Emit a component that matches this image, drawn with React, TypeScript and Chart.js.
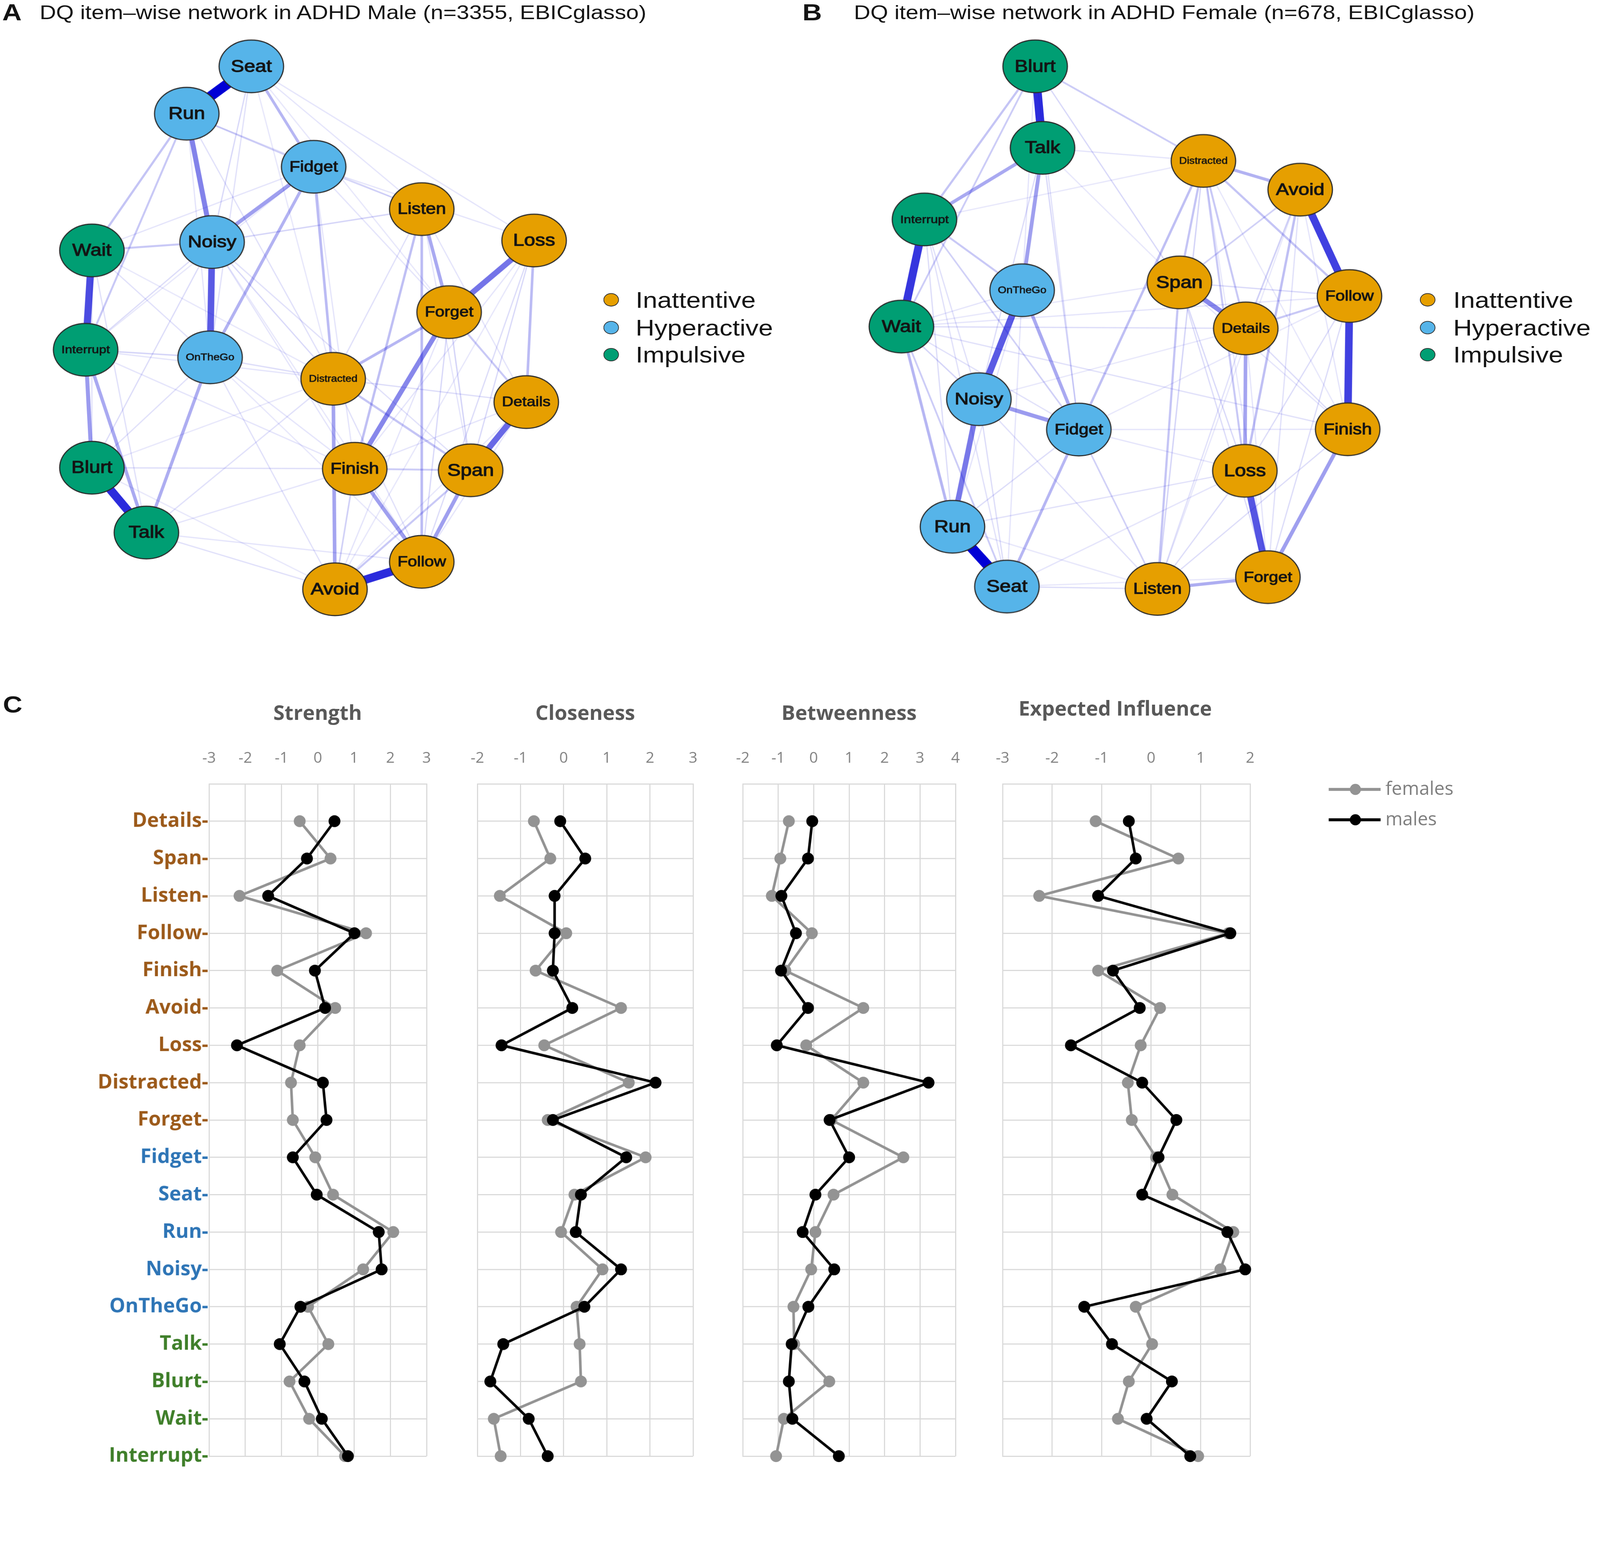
import React, { useEffect, useRef } from 'react';
import { Chart, registerables } from 'chart.js';

Chart.register(...registerables);

// ---------------- data ----------------
const items = ['Details', 'Span', 'Listen', 'Follow', 'Finish', 'Avoid', 'Loss', 'Distracted', 'Forget',
  'Fidget', 'Seat', 'Run', 'Noisy', 'OnTheGo', 'Talk', 'Blurt', 'Wait', 'Interrupt'];
const itemGroup = [0, 0, 0, 0, 0, 0, 0, 0, 0, 1, 1, 1, 1, 1, 2, 2, 2, 2];
const groupNames = ['Inattentive', 'Hyperactive', 'Impulsive'];
const seriesNames = ['females', 'males'];

const strengthMales = [0.46, -0.30, -1.37, 1.01, -0.08, 0.20, -2.23, 0.14, 0.24, -0.69, -0.03, 1.68, 1.76, -0.48, -1.05, -0.37, 0.11, 0.83];
const strengthFemales = [-0.50, 0.35, -2.16, 1.33, -1.12, 0.48, -0.50, -0.74, -0.69, -0.07, 0.42, 2.08, 1.25, -0.27, 0.29, -0.78, -0.24, 0.75];
const closenessMales = [-0.08, 0.50, -0.21, -0.21, -0.25, 0.20, -1.44, 2.13, -0.25, 1.45, 0.40, 0.28, 1.33, 0.48, -1.40, -1.70, -0.81, -0.37];
const closenessFemales = [-0.69, -0.31, -1.48, 0.06, -0.65, 1.33, -0.45, 1.51, -0.37, 1.90, 0.25, -0.06, 0.90, 0.30, 0.37, 0.40, -1.62, -1.46];
const betweennessMales = [-0.04, -0.16, -0.91, -0.50, -0.92, -0.16, -1.04, 3.24, 0.45, 1.00, 0.05, -0.31, 0.58, -0.15, -0.62, -0.70, -0.60, 0.71];
const betweennessFemales = [-0.70, -0.94, -1.18, -0.05, -0.80, 1.40, -0.21, 1.40, 0.50, 2.53, 0.56, 0.05, -0.07, -0.57, -0.55, 0.44, -0.84, -1.06];
const influenceMales = [-0.45, -0.31, -1.07, 1.60, -0.77, -0.23, -1.62, -0.18, 0.51, 0.15, -0.18, 1.54, 1.90, -1.35, -0.79, 0.42, -0.09, 0.79];
const influenceFemales = [-1.12, 0.55, -2.26, 1.56, -1.07, 0.18, -0.21, -0.47, -0.39, 0.10, 0.43, 1.66, 1.40, -0.31, 0.02, -0.45, -0.67, 0.95];

const strengthAxis = [-3, 3];
const closenessAxis = [-2, 3];
const betweennessAxis = [-2, 4];
const influenceAxis = [-3, 2];

// network layouts (qgraph-style coordinates) and edge weights
const maleNodes = ['Seat', 'Run', 'Fidget', 'Listen', 'Loss', 'Wait', 'Noisy', 'Forget', 'Interrupt', 'OnTheGo',
  'Distracted', 'Details', 'Blurt', 'Finish', 'Span', 'Talk', 'Follow', 'Avoid'];
const maleX = [-0.261, -0.549, 0.017, 0.499, 1.000, -0.972, -0.436, 0.621, -1.000, -0.445, 0.104, 0.965, -0.972, 0.200, 0.717, -0.729, 0.499, 0.112];
const maleY = [1.000, 0.819, 0.616, 0.454, 0.334, 0.296, 0.328, 0.060, -0.084, -0.113, -0.195, -0.284, -0.535, -0.539, -0.545, -0.783, -0.895, -1.000];
const maleEdges: [string, string, number][] = [
  ['Seat', 'Run', 0.50], ['Blurt', 'Talk', 0.42], ['Avoid', 'Follow', 0.42], ['Wait', 'Interrupt', 0.36],
  ['Noisy', 'OnTheGo', 0.33], ['Details', 'Span', 0.30], ['Loss', 'Forget', 0.28], ['Run', 'Noisy', 0.25],
  ['Forget', 'Finish', 0.24], ['Interrupt', 'Blurt', 0.20], ['Fidget', 'Noisy', 0.19], ['Finish', 'Follow', 0.19],
  ['Span', 'Follow', 0.19], ['Distracted', 'Avoid', 0.18], ['Interrupt', 'Talk', 0.17], ['OnTheGo', 'Talk', 0.16],
  ['Listen', 'Forget', 0.17], ['Fidget', 'OnTheGo', 0.15], ['Seat', 'Fidget', 0.14], ['Forget', 'Distracted', 0.14],
  ['Listen', 'Follow', 0.13], ['Loss', 'Details', 0.13], ['Fidget', 'Distracted', 0.13], ['Listen', 'Finish', 0.12],
  ['Run', 'Wait', 0.11], ['Run', 'Interrupt', 0.10], ['Wait', 'Noisy', 0.10], ['Distracted', 'Span', 0.11],
  ['Forget', 'Details', 0.10], ['Finish', 'Span', 0.09], ['Avoid', 'Span', 0.10], ['Finish', 'Avoid', 0.08],
  ['Run', 'Fidget', 0.08], ['Noisy', 'Listen', 0.07], ['Interrupt', 'OnTheGo', 0.07], ['Forget', 'Span', 0.07],
  ['Forget', 'Follow', 0.06], ['Loss', 'Span', 0.06], ['Loss', 'Follow', 0.05], ['Noisy', 'Distracted', 0.06],
  ['Blurt', 'Finish', 0.05], ['Blurt', 'Noisy', 0.05], ['Talk', 'Distracted', 0.04], ['Talk', 'Avoid', 0.04],
  ['Seat', 'Noisy', 0.06], ['Seat', 'OnTheGo', 0.04], ['Wait', 'Talk', 0.04], ['Wait', 'Blurt', 0.04],
  ['Interrupt', 'Noisy', 0.05], ['Fidget', 'Listen', 0.06], ['Details', 'Distracted', 0.05], ['Seat', 'Loss', 0.03],
  ['Run', 'Distracted', 0.04], ['Noisy', 'Span', 0.04], ['OnTheGo', 'Distracted', 0.05], ['OnTheGo', 'Avoid', 0.04],
  ['Interrupt', 'Finish', 0.03], ['Seat', 'Listen', 0.03], ['Fidget', 'Loss', 0.03], ['Wait', 'OnTheGo', 0.04],
  ['Blurt', 'OnTheGo', 0.04], ['Talk', 'Follow', 0.03], ['Interrupt', 'Distracted', 0.03],
  ['Run', 'OnTheGo', 0.03], ['Seat', 'Distracted', 0.02], ['Seat', 'Forget', 0.02], ['Fidget', 'Forget', 0.03],
  ['Fidget', 'Finish', 0.03], ['Listen', 'Span', 0.03], ['Listen', 'Details', 0.03], ['Listen', 'Distracted', 0.04],
  ['Loss', 'Finish', 0.03], ['Loss', 'Avoid', 0.02], ['Details', 'Follow', 0.03], ['Details', 'Finish', 0.03],
  ['Details', 'Avoid', 0.02], ['Noisy', 'Finish', 0.03], ['Noisy', 'Follow', 0.02], ['OnTheGo', 'Finish', 0.03],
  ['OnTheGo', 'Follow', 0.02], ['Blurt', 'Distracted', 0.02], ['Talk', 'Finish', 0.03], ['Wait', 'Fidget', 0.03],
  ['Interrupt', 'Fidget', 0.02], ['Wait', 'Distracted', 0.02], ['Run', 'Listen', 0.02], ['Blurt', 'Avoid', 0.02],
  ['Distracted', 'Follow', 0.04], ['Forget', 'Avoid', 0.03],
];

const femaleNodes = ['Blurt', 'Talk', 'Distracted', 'Avoid', 'Interrupt', 'Span', 'OnTheGo', 'Follow', 'Wait', 'Details',
  'Noisy', 'Fidget', 'Finish', 'Loss', 'Run', 'Forget', 'Seat', 'Listen'];
const femaleX = [-0.403, -0.370, 0.348, 0.780, -0.897, 0.241, -0.461, 1.000, -1.000, 0.537, -0.654, -0.208, 0.992, 0.533, -0.772, 0.636, -0.529, 0.143];
const femaleY = [1.000, 0.688, 0.638, 0.528, 0.414, 0.173, 0.143, 0.121, 0.004, -0.003, -0.274, -0.390, -0.389, -0.548, -0.762, -0.955, -0.991, -1.000];
const femaleEdges: [string, string, number][] = [
  ['Run', 'Seat', 0.50], ['Blurt', 'Talk', 0.42], ['Interrupt', 'Wait', 0.40], ['Avoid', 'Follow', 0.38],
  ['Follow', 'Finish', 0.38], ['Loss', 'Forget', 0.34], ['OnTheGo', 'Noisy', 0.33], ['Noisy', 'Run', 0.27],
  ['Span', 'Details', 0.24], ['Noisy', 'Fidget', 0.20], ['Talk', 'OnTheGo', 0.19], ['Finish', 'Forget', 0.19],
  ['Details', 'Loss', 0.18], ['OnTheGo', 'Fidget', 0.17], ['Talk', 'Interrupt', 0.17], ['Listen', 'Forget', 0.16],
  ['Distracted', 'Avoid', 0.15], ['Wait', 'Run', 0.14], ['Fidget', 'Seat', 0.14], ['Fidget', 'Distracted', 0.12],
  ['Avoid', 'Loss', 0.12], ['Distracted', 'Follow', 0.11], ['Blurt', 'Interrupt', 0.11], ['Distracted', 'Span', 0.11],
  ['Distracted', 'Details', 0.10], ['Distracted', 'Loss', 0.10], ['Listen', 'Span', 0.11], ['Details', 'Follow', 0.10],
  ['Interrupt', 'OnTheGo', 0.10], ['Blurt', 'Wait', 0.09], ['Blurt', 'Distracted', 0.09], ['Wait', 'Seat', 0.09],
  ['Interrupt', 'Fidget', 0.08], ['Avoid', 'Span', 0.08], ['Avoid', 'Details', 0.08], ['Listen', 'Fidget', 0.08],
  ['Wait', 'Noisy', 0.07], ['Listen', 'Distracted', 0.07], ['Talk', 'Fidget', 0.06], ['Span', 'Follow', 0.06],
  ['Span', 'Loss', 0.06], ['Blurt', 'Span', 0.06], ['Wait', 'Details', 0.05], ['Follow', 'Loss', 0.05],
  ['Follow', 'Forget', 0.05], ['Finish', 'Details', 0.05], ['Finish', 'Listen', 0.05], ['Loss', 'Listen', 0.05],
  ['Loss', 'Run', 0.04], ['Span', 'Forget', 0.05], ['Talk', 'Noisy', 0.05], ['Run', 'Fidget', 0.05],
  ['Seat', 'Noisy', 0.05], ['Wait', 'Finish', 0.04], ['Seat', 'Listen', 0.05], ['Interrupt', 'Run', 0.05],
  ['Interrupt', 'Seat', 0.04], ['Wait', 'Fidget', 0.04], ['Noisy', 'Listen', 0.04], ['Blurt', 'Fidget', 0.04],
  ['Avoid', 'Forget', 0.04], ['Details', 'Listen', 0.04], ['Wait', 'Follow', 0.03], ['Seat', 'Loss', 0.03],
  ['Talk', 'Distracted', 0.03], ['Talk', 'Span', 0.02], ['Blurt', 'OnTheGo', 0.03], ['Interrupt', 'Noisy', 0.04],
  ['OnTheGo', 'Run', 0.03], ['OnTheGo', 'Seat', 0.03], ['OnTheGo', 'Wait', 0.03], ['Fidget', 'Finish', 0.03],
  ['Fidget', 'Loss', 0.03], ['Run', 'Listen', 0.02], ['Seat', 'Forget', 0.02], ['Span', 'Finish', 0.03],
  ['Details', 'Forget', 0.03], ['Distracted', 'Forget', 0.02], ['Avoid', 'Finish', 0.03], ['Distracted', 'Finish', 0.02],
  ['Wait', 'Span', 0.02], ['Noisy', 'Details', 0.02], ['Fidget', 'Follow', 0.02], ['Listen', 'Avoid', 0.02],
  ['Interrupt', 'Distracted', 0.02],
];

// ---------------- styles ----------------
const GROUP_FILL = ['#E69F00', '#56B4E9', '#009E73'];
const LABEL_COLORS = ['#9C5A1A', '#2E75B6', '#3F7F2A'];
const QFONT = '"Liberation Sans", Arial, Helvetica, sans-serif';
const XFONT = '"Open Sans", sans-serif';
const HSCALE = 1.17;
const PAGE_W = 4317;
const PAGE_H = 3981;

const groupOf = (name: string) => itemGroup[items.indexOf(name)];

function makeNodeImage(fill: string) {
  const c = document.createElement('canvas');
  const rx = 87, ry = 71, pad = 3;
  c.width = 2 * (rx + pad);
  c.height = 2 * (ry + pad);
  const g = c.getContext('2d')!;
  g.beginPath();
  g.ellipse(rx + pad, ry + pad, rx, ry, 0, 0, Math.PI * 2);
  g.fillStyle = fill;
  g.fill();
  g.lineWidth = 3;
  g.strokeStyle = '#2a2a2a';
  g.stroke();
  return c;
}

type Box = { left: number; top: number; width: number; height: number };

function NetworkPanel(props: {
  nodes: string[]; xs: number[]; ys: number[]; edges: [string, string, number][];
  box: Box; xRange: number[]; yRange: number[];
}) {
  const ref = useRef<HTMLCanvasElement>(null);
  useEffect(() => {
    const { nodes, xs, ys, edges, xRange, yRange } = props;
    const maxW = Math.max(...edges.map((e) => e[2]));
    const sorted = [...edges].sort((a, b) => b[2] - a[2]);
    const edgeSets = sorted.map((e, i) => {
      const a = nodes.indexOf(e[0]);
      const b = nodes.indexOf(e[1]);
      const r = e[2] / maxW;
      const alpha = Math.min(1, 0.07 + 0.93 * Math.pow(r, 1.15));
      return {
        data: [{ x: xs[a], y: ys[a] }, { x: xs[b], y: ys[b] }],
        showLine: true,
        borderColor: `rgba(0,0,213,${alpha.toFixed(3)})`,
        borderWidth: Math.max(3.5, 27 * r),
        borderCapStyle: 'butt',
        pointRadius: 0,
        pointHoverRadius: 0,
        order: i + 1,
        clip: false,
      };
    });
    const images = GROUP_FILL.map((c) => makeNodeImage(c));
    const nodeSet = {
      data: nodes.map((_, i) => ({ x: xs[i], y: ys[i] })),
      pointStyle: (ctx: any) => images[groupOf(nodes[ctx.dataIndex])],
      pointRadius: 80,
      pointHoverRadius: 80,
      order: 0,
      clip: false,
    };
    const labelPlugin = {
      id: 'nodeLabels',
      afterDatasetsDraw(chart: any) {
        const meta = chart.getDatasetMeta(0);
        const ctx = chart.ctx;
        meta.data.forEach((el: any, i: number) => {
          const name = nodes[i];
          ctx.save();
          ctx.font = `100px ${QFONT}`;
          const w = ctx.measureText(name).width;
          const size = Math.min(46, (112 * 100) / w);
          ctx.translate(el.x, el.y);
          ctx.scale(HSCALE, 1);
          ctx.font = `${size}px ${QFONT}`;
          ctx.fillStyle = '#141414';
          ctx.strokeStyle = '#141414';
          ctx.lineWidth = Math.max(0.8, size / 30);
          ctx.lineJoin = 'round';
          ctx.textAlign = 'center';
          ctx.textBaseline = 'middle';
          ctx.fillText(name, 0, size * 0.04);
          ctx.strokeText(name, 0, size * 0.04);
          ctx.restore();
        });
      },
    };
    const chart = new Chart(ref.current!, {
      type: 'scatter',
      data: { datasets: [nodeSet, ...edgeSets] as any },
      options: {
        animation: false,
        responsive: false,
        devicePixelRatio: 1,
        events: [],
        layout: { padding: 0, autoPadding: false },
        plugins: { legend: { display: false }, tooltip: { enabled: false } },
        scales: {
          x: { type: 'linear', display: false, min: xRange[0], max: xRange[1] },
          y: { type: 'linear', display: false, min: yRange[0], max: yRange[1] },
        },
      } as any,
      plugins: [labelPlugin],
    });
    return () => chart.destroy();
  }, []);
  const b = props.box;
  return (
    <canvas ref={ref} width={b.width} height={b.height}
      style={{ position: 'absolute', left: b.left, top: b.top, width: b.width, height: b.height }} />
  );
}

function CentralityPanel(props: {
  males: number[]; females: number[]; range: number[];
  area: { left: number; right: number; top: number; bottom: number }; labels: boolean;
}) {
  const ref = useRef<HTMLCanvasElement>(null);
  const { area, labels } = props;
  const yW = labels ? 520 : 0;
  const padL = labels ? 0 : 80;
  const axisH = 120;
  const pad = 80;
  const left = area.left - yW - padL;
  const top = area.top - axisH;
  const width = yW + padL + (area.right - area.left) + pad;
  const height = axisH + (area.bottom - area.top) + pad;
  useEffect(() => {
    const gridOpts = { color: '#d9d9d9', lineWidth: 3, drawTicks: false };
    const chart = new Chart(ref.current!, {
      type: 'scatter',
      data: {
        datasets: [
          {
            label: seriesNames[0],
            data: props.females.map((v, i) => ({ x: v, y: i + 1 })),
            showLine: true,
            borderColor: '#939393',
            backgroundColor: '#939393',
            borderWidth: 7,
            pointRadius: 16,
            pointBorderWidth: 0,
            order: 1,
            clip: false,
          },
          {
            label: seriesNames[1],
            data: props.males.map((v, i) => ({ x: v, y: i + 1 })),
            showLine: true,
            borderColor: '#000000',
            backgroundColor: '#000000',
            borderWidth: 7,
            pointRadius: 16,
            pointBorderWidth: 0,
            order: 0,
            clip: false,
          },
        ],
      } as any,
      options: {
        animation: false,
        responsive: false,
        devicePixelRatio: 1,
        events: [],
        layout: { padding: { left: padL, right: pad, top: 0, bottom: pad }, autoPadding: false },
        plugins: { legend: { display: false }, tooltip: { enabled: false } },
        scales: {
          x: {
            type: 'linear',
            position: 'top',
            min: props.range[0],
            max: props.range[1],
            ticks: { stepSize: 1, font: { family: XFONT, size: 41 }, color: '#808080', padding: 44 },
            grid: gridOpts,
            border: { display: true, color: '#d9d9d9', width: 3 },
            afterFit: (s: any) => { s.height = axisH; },
          },
          y: {
            type: 'linear',
            reverse: true,
            min: 0,
            max: items.length,
            ticks: {
              stepSize: 1,
              autoSkip: false,
              display: labels,
              padding: 2,
              font: { family: XFONT, size: 54, weight: 'bold' },
              color: (c: any) => {
                const k = Math.round(c.tick.value) - 1;
                return k >= 0 && k < items.length ? LABEL_COLORS[itemGroup[k]] : '#000';
              },
              callback: (v: any) => {
                const k = Math.round(Number(v)) - 1;
                return k >= 0 && k < items.length ? items[k] + '-' : '';
              },
            },
            grid: gridOpts,
            border: { display: true, color: '#d9d9d9', width: 3 },
            afterFit: (s: any) => { s.width = yW; },
          },
        },
      } as any,
    });
    return () => chart.destroy();
  }, []);
  return (
    <canvas ref={ref} width={width} height={height}
      style={{ position: 'absolute', left, top, width, height }} />
  );
}

const abs = (extra: React.CSSProperties): React.CSSProperties => ({ position: 'absolute', whiteSpace: 'nowrap', margin: 0, ...extra });

function QText(props: { left: number; cy: number; size: number; bold?: boolean; children: any }) {
  return (
    <div style={abs({
      left: props.left, top: props.cy - 0.49 * props.size, fontSize: props.size, lineHeight: `${props.size}px`,
      fontFamily: QFONT, fontWeight: props.bold ? 'bold' : 'normal', color: '#141414',
      transform: `scaleX(${HSCALE})`, transformOrigin: 'left center',
    })}>{props.children}</div>
  );
}

function NetLegend(props: { dotX: number; textX: number; rows: number[] }) {
  return (
    <>
      {groupNames.map((g, i) => (
        <React.Fragment key={g}>
          <div style={abs({
            left: props.dotX - 21, top: props.rows[i] - 18, width: 42, height: 36, borderRadius: '50%',
            background: GROUP_FILL[i], border: '2px solid #333', boxSizing: 'border-box',
          })} />
          <QText left={props.textX} cy={props.rows[i]} size={60}>{g}</QText>
        </React.Fragment>
      ))}
    </>
  );
}

function CTitle(props: { cx: number; cy: number; children: any }) {
  return (
    <div style={abs({
      left: props.cx - 600, width: 1200, textAlign: 'center', top: props.cy - 0.531 * 55,
      fontFamily: XFONT, fontWeight: 'bold', fontSize: 55, lineHeight: '55px', color: '#595959',
    })}>{props.children}</div>
  );
}

export default function App() {
  const vw = typeof window !== 'undefined' ? window.innerWidth : PAGE_W;
  const vh = typeof window !== 'undefined' ? window.innerHeight : PAGE_H;
  const s = Math.min(1, vw / PAGE_W, vh / PAGE_H);
  const legendRows = [809, 884, 957];
  const centralityLegend = [
    { name: seriesNames[0], color: '#939393', cy: 2130 },
    { name: seriesNames[1], color: '#000000', cy: 2212 },
  ];
  return (
    <div style={{ position: 'absolute', left: 0, top: 0, width: PAGE_W * s, height: PAGE_H * s, overflow: 'hidden', background: '#fff' }}>
      <div style={{ position: 'absolute', left: 0, top: 0, width: PAGE_W, height: PAGE_H, background: '#fff',
        transform: `scale(${s})`, transformOrigin: '0 0' }}>
        {/* Panel A */}
        <QText left={6} cy={33} size={62} bold>A</QText>
        <QText left={107} cy={34} size={52.5}>DQ item–wise network in ADHD Male (n=3355, EBICglasso)</QText>
        <NetworkPanel nodes={maleNodes} xs={maleX} ys={maleY} edges={maleEdges}
          box={{ left: 0, top: 90, width: 1640, height: 1610 }}
          xRange={[-1.3818, 1.3289]} yRange={[-1.1559, 1.1262]} />
        <NetLegend dotX={1649} textX={1715} rows={legendRows} />

        {/* Panel B */}
        <QText left={2165} cy={33} size={62} bold>B</QText>
        <QText left={2304} cy={34} size={52.5}>DQ item–wise network in ADHD Female (n=678, EBICglasso)</QText>
        <NetworkPanel nodes={femaleNodes} xs={femaleX} ys={femaleY} edges={femaleEdges}
          box={{ left: 2160, top: 90, width: 1640, height: 1610 }}
          xRange={[-1.4500, 1.2630]} yRange={[-1.1574, 1.1262]} />
        <NetLegend dotX={3852} textX={3921} rows={legendRows} />

        {/* Panel C */}
        <QText left={8} cy={1900} size={62} bold>C</QText>
        <CTitle cx={857} cy={1922}>Strength</CTitle>
        <CTitle cx={1579} cy={1922}>Closeness</CTitle>
        <CTitle cx={2291} cy={1922}>Betweenness</CTitle>
        <CTitle cx={3009} cy={1911}>Expected Influence</CTitle>
        <CentralityPanel males={strengthMales} females={strengthFemales} range={strengthAxis}
          area={{ left: 564, right: 1151, top: 2115, bottom: 3929 }} labels={true} />
        <CentralityPanel males={closenessMales} females={closenessFemales} range={closenessAxis}
          area={{ left: 1288, right: 1870, top: 2115, bottom: 3929 }} labels={false} />
        <CentralityPanel males={betweennessMales} females={betweennessFemales} range={betweennessAxis}
          area={{ left: 2004, right: 2578, top: 2115, bottom: 3929 }} labels={false} />
        <CentralityPanel males={influenceMales} females={influenceFemales} range={influenceAxis}
          area={{ left: 2705, right: 3373, top: 2115, bottom: 3929 }} labels={false} />
        {centralityLegend.map((c) => (
          <React.Fragment key={c.name}>
            <div style={abs({ left: 3585, top: c.cy - 4, width: 140, height: 8, background: c.color })} />
            <div style={abs({ left: 3657 - 15, top: c.cy - 15, width: 30, height: 30, borderRadius: '50%', background: c.color })} />
            <div style={abs({
              left: 3738, top: c.cy + 15 - 0.888 * 50, fontFamily: XFONT, fontSize: 50, lineHeight: '50px', color: '#7f7f7f',
            })}>{c.name}</div>
          </React.Fragment>
        ))}
      </div>
    </div>
  );
}
